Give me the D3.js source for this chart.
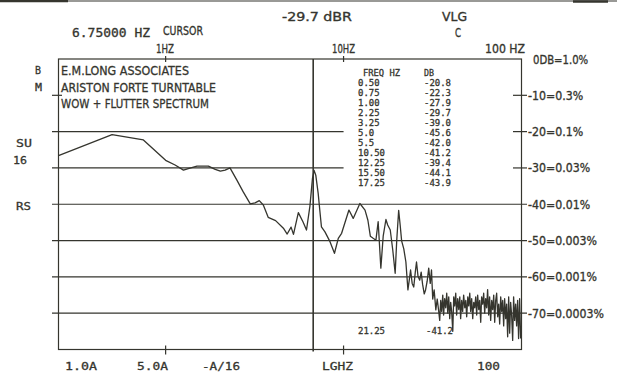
<!DOCTYPE html>
<html><head><meta charset="utf-8">
<script src="https://cdn.jsdelivr.net/npm/d3@7"></script>
<style>body{margin:0;background:#fff}svg{display:block}</style>
</head><body>
<script>
// ---- data ----
const freqHz = [0.25,0.5,0.75,1.0,1.13,1.26,1.34,1.50,1.74,1.90,2.03,2.16,2.30,2.51,2.73,2.99,3.18,3.36,3.54,3.77,4.15,4.59,4.82,5.07,5.23,5.57,5.92,6.19,6.47,6.69,6.83,6.98,7.20,7.35,7.51,7.86,8.39,8.89,9.34,9.75,10.72,11.33,12.35,13.2,13.7,14.14,14.6,15.2,15.65,16.2,16.7,17.3,17.7,18.3,18.9,19.5,19.9,20.4,20.8,21.2,21.8,22.4,22.7,23.0,23.4,23.8,24.3,24.8,25.3,25.7,26.2,26.8,27.3,27.8,28.4,28.9,29.5,30.1,30.7,31.2,31.7,32.3,33.0,33.6,34.3,
34.7,35.15,35.6,36.1,36.5,37.0,37.5,38.0,38.5,39.0,39.5,40.0,40.5,41.1,41.6,42.1,42.7,43.2,43.8,44.4,45.0,45.5,46.1,46.7,47.3,48.0,48.6,49.2,49.9,50.5,51.2,51.8,52.5,53.2,53.9,54.6,55.3,56.0,56.7,57.5,58.2,59.0,59.7,60.5,61.3,62.1,62.9,63.7,64.5,65.4,66.2,67.1,68.0,68.9,69.8,70.7,71.6,72.5,73.5,74.4,75.4,76.4,77.4,78.4,79.4,80.4,81.5,82.5,83.6,84.7,85.8,86.9,88.0,89.2,90.3,91.5,92.7,93.9,95.1,96.3,97.6,98.9];
const levelDb = [-26.6,-20.8,-22.3,-27.9,-29.2,-30.6,-30.2,-29.5,-29.5,-30.4,-30.9,-30.6,-30.0,-33.3,-36.6,-39.9,-39.6,-39.0,-40.2,-43.6,-44.5,-46.6,-48.2,-46.3,-48.3,-42.3,-44.9,-47.1,-40.5,-32.8,-30.7,-32.0,-37.0,-41.6,-46.2,-47.6,-50.3,-53.5,-49.4,-48.0,-41.6,-43.9,-39.8,-41.6,-44.4,-48.8,-49.3,-49.9,-44.8,-57.6,-48.8,-44.2,-45.7,-47.1,-52.6,-59.0,-49.9,-41.7,-45.7,-50.1,-52.3,-55.9,-59.8,-63.6,-60.9,-58.1,-61.8,-62.8,-58.7,-55.9,-59.8,-60.9,-58.7,-62.0,-64.7,-63.6,-61.2,-57.6,-61.8,-58.1,-66.1,-63.6,-69.1,-66.1,-69.7,
-72,-66.5,-69.5,-65,-70.5,-66,-68.5,-64.5,-70,-65.5,-71.5,-67,-69.5,-75,-65.5,-68,-64.5,-70.5,-66,-69,-65.5,-71.5,-66.5,-69.5,-65,-68.5,-66.5,-71,-65.5,-68,-64.5,-69.5,-66,-71.5,-67,-68.5,-65.5,-70.5,-65,-69,-66.5,-72.5,-65.5,-67.5,-64.5,-70,-66,-68.5,-63.5,-70.5,-65.5,-72,-66.5,-69,-65,-72.5,-66.5,-64.5,-71,-67.5,-73,-65.5,-69.5,-66.5,-73.5,-66,-71.5,-67.5,-76.5,-65.5,-75.5,-67,-70.5,-77.5,-65.5,-72,-67.5,-73.5,-66.5,-77,-66,-77];
const tableFreq = ["0.50","0.75","1.00","2.25","3.25","5.0","5.5","10.50","12.25","15.50","17.25"];
const tableDb = ["-20.8","-22.3","-27.9","-29.7","-39.0","-45.6","-42.0","-41.2","-39.4","-44.1","-43.9"];
const cursorRow = ["21.25","-41.2"];
const dbTicks = [0,-10,-20,-30,-40,-50,-60,-70];
const dbTickLabels = ["0DB=1.0%","-10=0.3%","-20=0.1%","-30=0.03%","-40=0.01%","-50=0.003%","-60=0.001%","-70=0.0003%"];
const gridDb = [-20,-30,-40,-50,-60,-70];
const freqTicks = [1,10,100];
const freqTickLabels = ["1HZ","10HZ","100 HZ"];
const bottomLabels = ["1.0A","5.0A","-A/16","LGHZ","100"];
const cursorHz = 6.75;
const titleLines = ["E.M.LONG ASSOCIATES","ARISTON FORTE TURNTABLE","WOW + FLUTTER SPECTRUM"];

// ---- drawing ----
const W=617,H=375, ink="#35352e";
const svg=d3.select("body").append("svg").attr("width",W).attr("height",H);
const x=d3.scaleLog().domain([0.25,100]).range([58.5,521.5]);
const y=d3.scaleLinear().domain([0,-80]).range([59,349.5]);
const FONT="'DejaVu Sans Condensed','Liberation Sans Narrow','DejaVu Sans',sans-serif";
const MONO="'DejaVu Sans Mono','Liberation Mono',monospace";

function txt(s,x0,base,size,w,fam){
  const t=svg.append("text").attr("x",x0).attr("y",base).attr("font-size",size)
   .attr("font-family",fam||FONT).attr("fill",ink).attr("stroke",ink).attr("stroke-width",0.3).text(s);
  if(w) t.attr("textLength",w).attr("lengthAdjust","spacingAndGlyphs");
  return t;
}

// scan top line
svg.append("line").attr("x1",0).attr("x2",617).attr("y1",1).attr("y2",1).attr("stroke",ink).attr("stroke-width",1.2);
svg.append("line").attr("x1",0).attr("x2",68).attr("y1",1).attr("y2",1).attr("stroke",ink).attr("stroke-width",2.6);
svg.append("line").attr("x1",573).attr("x2",608).attr("y1",1.5).attr("y2",1.5).attr("stroke",ink).attr("stroke-width",2.4);

// grid lines
const g=svg.append("g").attr("stroke",ink).attr("stroke-width",1.2);
gridDb.forEach(d=>{
  const yy=y(d);
  if(d===-20||d===-30){
    g.append("line").attr("x1",52).attr("x2",x(10)).attr("y1",yy).attr("y2",yy);
    g.append("line").attr("x1",513).attr("x2",527).attr("y1",yy).attr("y2",yy);
  } else {
    g.append("line").attr("x1",52).attr("x2",527).attr("y1",yy).attr("y2",yy);
  }
});
// -10 ticks
g.append("line").attr("x1",52).attr("x2",62).attr("y1",y(-10)).attr("y2",y(-10));
g.append("line").attr("x1",513).attr("x2",527).attr("y1",y(-10)).attr("y2",y(-10));

// frame
svg.append("rect").attr("x",x(0.25)).attr("y",y(0)).attr("width",x(100)-x(0.25)).attr("height",y(-80)-y(0))
  .attr("fill","none").attr("stroke",ink).attr("stroke-width",1.2);

// frequency ticks top/bottom
freqTicks.slice(0,2).forEach(f=>{
  g.append("line").attr("x1",x(f)).attr("x2",x(f)).attr("y1",y(0)-3).attr("y2",y(0)+3);
  g.append("line").attr("x1",x(f)).attr("x2",x(f)).attr("y1",y(-80)-4).attr("y2",y(-80)+5);
});

// cursor
svg.append("line").attr("x1",x(cursorHz)).attr("x2",x(cursorHz)).attr("y1",y(0)).attr("y2",y(-80)+2)
  .attr("stroke",ink).attr("stroke-width",1.6);

// trace
const pts=freqHz.map((f,i)=>[f,levelDb[i]]);
svg.append("path").datum(pts).attr("fill","none").attr("stroke",ink).attr("stroke-width",1.3)
  .attr("stroke-linejoin","round")
  .attr("d",d3.line().x(d=>x(d[0])).y(d=>y(d[1])));

// top texts
txt("-29.7 dBR",282,21,11.5,70);
txt("VLG",442,21,11.5,25);
txt("6.75000 HZ",72,37,11.5,78,MONO);
txt("CURSOR",163,35,11.5,40);
txt("C",455,37,11.5,6);
const ftx=[[156,18],[332,23],[485,40]];
freqTickLabels.forEach((s,i)=>txt(s,ftx[i][0],53,11.5,ftx[i][1]));

// left labels
txt("B",35,74,11,6,MONO); txt("M",35,91,11,7,MONO);
txt("SU",16,147,11,16,MONO); txt("16",13,164,11,14,MONO); txt("RS",16,210,11,15,MONO);

// title
titleLines.forEach((s,i)=>txt(s,61,[75,92,108][i],13,[128,155,148][i]));

// right labels
dbTickLabels.forEach((s,i)=>{
  const x0 = i===0?533:528;
  txt(s,x0,y(dbTicks[i])+4.5,11.5,s.length*6.9);
});

// table
txt("FREQ HZ",363,75.5,9,37,MONO);
txt("DB",424,75.5,9,10,MONO);
tableFreq.forEach((s,i)=>{
  txt(s,358,85.5+10*i,9,s.length*5.4,MONO);
  txt(tableDb[i],424,85.5+10*i,9,tableDb[i].length*5.4,MONO);
});
txt(cursorRow[0],358,333.5,9,27,MONO);
txt(cursorRow[1],426,333.5,9,27,MONO);

// bottom labels
const bx=[[65,32],[137,31],[202,38],[322,31],[477,23]];
bottomLabels.forEach((s,i)=>txt(s,bx[i][0],370,11,bx[i][1],MONO));
</script>
</body></html>
